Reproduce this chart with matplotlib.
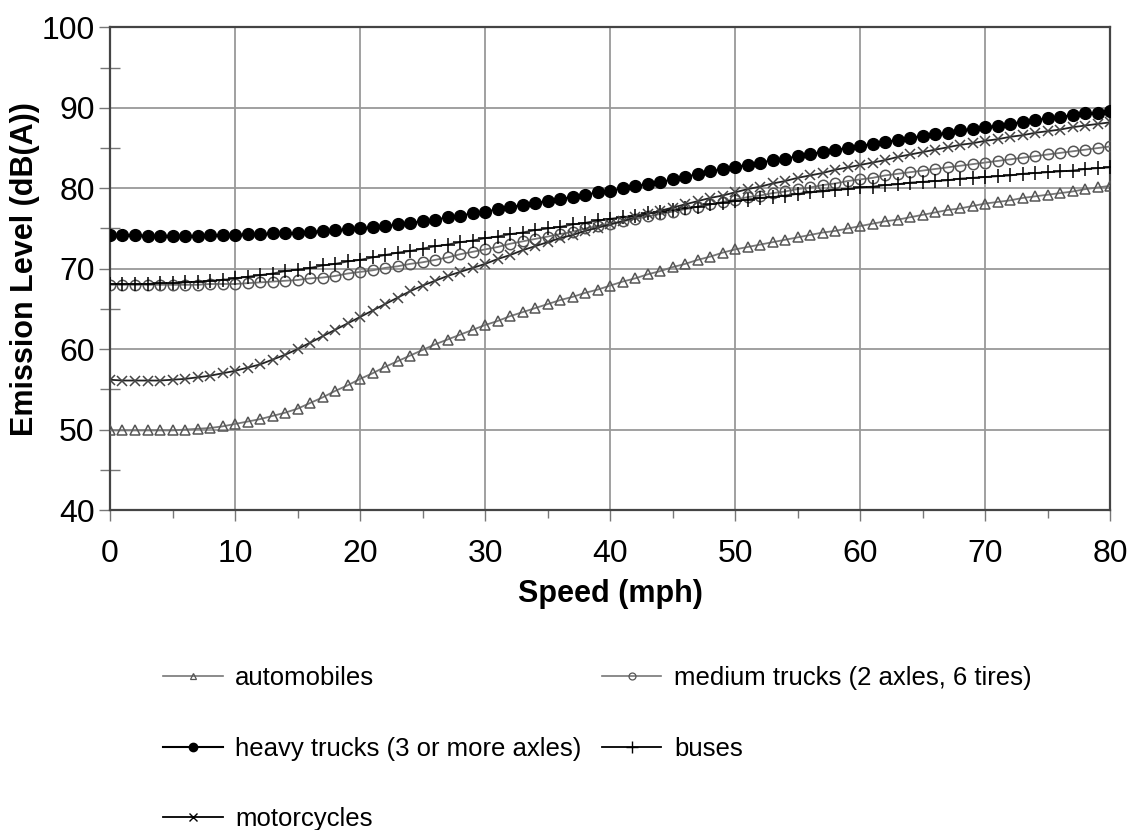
import matplotlib
matplotlib.use("Agg")
import matplotlib.pyplot as plt
from matplotlib.lines import Line2D
from matplotlib.ticker import MultipleLocator

plt.rcParams['font.family'] = ['Liberation Sans', 'DejaVu Sans']

# speed in mph, one reading per mph
speed = list(range(0, 81))

automobiles = [
    49.9, 49.9, 49.9, 49.9, 49.9, 49.9, 50.0, 50.1, 50.2, 50.4,
    50.7, 51.0, 51.3, 51.7, 52.1, 52.6, 53.3, 54.0, 54.8, 55.5,
    56.3, 57.0, 57.8, 58.5, 59.2, 59.9, 60.6, 61.2, 61.8, 62.4,
    63.0, 63.5, 64.1, 64.6, 65.1, 65.6, 66.1, 66.5, 67.0, 67.4,
    67.9, 68.4, 68.8, 69.3, 69.7, 70.2, 70.6, 71.1, 71.5, 72.0,
    72.4, 72.7, 73.0, 73.3, 73.6, 73.9, 74.2, 74.5, 74.7, 75.0,
    75.3, 75.6, 75.9, 76.1, 76.4, 76.7, 77.0, 77.3, 77.5, 77.8,
    78.1, 78.3, 78.5, 78.8, 79.0, 79.2, 79.4, 79.6, 79.9, 80.1,
    80.3,
]

medium_trucks = [
    68.0, 68.0, 68.0, 68.0, 68.0, 68.0, 68.0, 68.0, 68.1, 68.1,
    68.1, 68.2, 68.3, 68.4, 68.5, 68.6, 68.8, 68.9, 69.1, 69.4,
    69.6, 69.8, 70.1, 70.3, 70.6, 70.8, 71.1, 71.4, 71.8, 72.1,
    72.4, 72.7, 73.1, 73.4, 73.7, 74.0, 74.3, 74.6, 75.0, 75.3,
    75.6, 75.9, 76.2, 76.5, 76.8, 77.1, 77.4, 77.7, 78.0, 78.3,
    78.6, 78.9, 79.1, 79.4, 79.6, 79.9, 80.1, 80.4, 80.6, 80.9,
    81.1, 81.3, 81.6, 81.8, 82.0, 82.2, 82.4, 82.6, 82.8, 83.0,
    83.2, 83.4, 83.6, 83.8, 84.0, 84.2, 84.4, 84.6, 84.8, 85.0,
    85.2,
]

heavy_trucks = [
    74.2, 74.2, 74.2, 74.1, 74.1, 74.1, 74.1, 74.1, 74.2, 74.2,
    74.2, 74.3, 74.3, 74.4, 74.4, 74.5, 74.6, 74.7, 74.8, 74.9,
    75.0, 75.2, 75.3, 75.5, 75.7, 75.9, 76.1, 76.4, 76.6, 76.9,
    77.1, 77.4, 77.7, 77.9, 78.2, 78.4, 78.7, 78.9, 79.2, 79.5,
    79.7, 80.0, 80.3, 80.5, 80.8, 81.1, 81.4, 81.8, 82.1, 82.4,
    82.7, 82.9, 83.2, 83.5, 83.7, 84.0, 84.3, 84.5, 84.8, 85.0,
    85.3, 85.5, 85.8, 86.0, 86.3, 86.5, 86.7, 86.9, 87.2, 87.4,
    87.6, 87.8, 88.0, 88.3, 88.5, 88.7, 88.9, 89.1, 89.3, 89.4,
    89.6,
]

buses = [
    68.1, 68.1, 68.1, 68.1, 68.2, 68.2, 68.3, 68.4, 68.5, 68.6,
    68.8, 69.0, 69.2, 69.4, 69.7, 69.9, 70.1, 70.4, 70.6, 70.9,
    71.1, 71.4, 71.7, 72.0, 72.2, 72.5, 72.8, 73.0, 73.3, 73.5,
    73.8, 74.0, 74.3, 74.5, 74.8, 75.0, 75.2, 75.5, 75.7, 76.0,
    76.2, 76.4, 76.6, 76.9, 77.1, 77.3, 77.5, 77.7, 78.0, 78.2,
    78.4, 78.6, 78.8, 78.9, 79.1, 79.3, 79.5, 79.6, 79.8, 79.9,
    80.1, 80.2, 80.4, 80.5, 80.7, 80.8, 80.9, 81.0, 81.2, 81.3,
    81.4, 81.5, 81.6, 81.8, 81.9, 82.0, 82.1, 82.2, 82.4, 82.5,
    82.6,
]

motorcycles = [
    56.2, 56.1, 56.1, 56.1, 56.1, 56.2, 56.3, 56.5, 56.7, 57.0,
    57.3, 57.7, 58.1, 58.7, 59.3, 60.0, 60.8, 61.6, 62.4, 63.2,
    64.0, 64.8, 65.6, 66.4, 67.2, 67.9, 68.5, 69.1, 69.6, 70.1,
    70.6, 71.2, 71.7, 72.3, 72.8, 73.3, 73.8, 74.2, 74.7, 75.1,
    75.5, 75.9, 76.4, 76.8, 77.2, 77.6, 78.0, 78.4, 78.8, 79.1,
    79.5, 79.9, 80.2, 80.6, 80.9, 81.3, 81.6, 81.9, 82.3, 82.6,
    82.9, 83.2, 83.5, 83.9, 84.2, 84.5, 84.8, 85.1, 85.4, 85.6,
    85.9, 86.1, 86.4, 86.6, 86.9, 87.1, 87.3, 87.6, 87.8, 88.0,
    88.2,
]

labels = ['automobiles', 'medium trucks (2 axles, 6 tires)',
          'heavy trucks (3 or more axles)', 'buses', 'motorcycles']

fig = plt.figure(figsize=(11.27, 8.30), dpi=100)
ax = fig.add_axes([0.0976, 0.3855, 0.8876, 0.5815])

# gray open symbols for the light series, black for the rest
ax.plot(speed, automobiles, color='#777777', lw=1.3, marker='^', ms=7.5,
        mfc='none', mec='#555555', mew=1.1, zorder=3)
ax.plot(speed, medium_trucks, color='#777777', lw=1.3, marker='o', ms=7.5,
        mfc='none', mec='#555555', mew=1.1, zorder=3)
ax.plot(speed, heavy_trucks, color='black', lw=1.3, marker='o', ms=8.5,
        mfc='black', mec='black', zorder=4)
ax.plot(speed, buses, color='#333333', lw=1.3, marker='+', ms=10,
        mec='black', mew=1.1, zorder=3)
ax.plot(speed, motorcycles, color='#222222', lw=1.3, marker='x', ms=7.5,
        mec='#444444', mew=1.1, zorder=3)

ax.set_xlim(0, 80)
ax.set_ylim(40, 100)
ax.xaxis.set_major_locator(MultipleLocator(10))
ax.xaxis.set_minor_locator(MultipleLocator(5))
ax.yaxis.set_major_locator(MultipleLocator(10))
ax.yaxis.set_minor_locator(MultipleLocator(5))

ax.grid(True, which='major', color='#999999', lw=1.3)
ax.set_axisbelow(True)

for side in ['left', 'bottom', 'top', 'right']:
    ax.spines[side].set_color('#444444')
    ax.spines[side].set_linewidth(1.6)

ax.tick_params(axis='y', which='major', direction='out', length=8,
               width=1.0, color='#777777', labelsize=23, pad=3)
ax.tick_params(axis='y', which='minor', direction='inout', length=14,
               width=1.0, color='#777777')
ax.tick_params(axis='x', which='major', direction='out', length=8,
               width=1.0, color='#777777', labelsize=23, pad=13)
ax.tick_params(axis='x', which='minor', direction='out', length=6,
               width=1.0, color='#777777')

ax.set_xlabel('Speed (mph)', fontsize=22, fontweight='bold', labelpad=7)
ax.set_ylabel('Emission Level (dB(A))', fontsize=22, fontweight='bold',
              labelpad=1)

# legend: small symbols on a short line, two columns below the chart
h_auto = Line2D([], [], color='#777777', lw=1.2, marker='^', ms=5,
                mfc='none', mec='#555555', mew=0.9)
h_med = Line2D([], [], color='#777777', lw=1.2, marker='o', ms=5,
               mfc='none', mec='#555555', mew=0.9)
h_heavy = Line2D([], [], color='black', lw=1.5, marker='o', ms=6,
                 mfc='black', mec='black')
h_bus = Line2D([], [], color='black', lw=1.3, marker='+', ms=8,
               mec='black', mew=1.0)
h_moto = Line2D([], [], color='black', lw=1.3, marker='x', ms=6,
                mec='black', mew=1.0)

fig.legend([h_auto, h_heavy, h_moto, h_med, h_bus],
           [labels[0], labels[2], labels[4], labels[1], labels[3]],
           loc='upper left', bbox_to_anchor=(0.145, 0.197), ncol=2,
           frameon=False, fontsize=18.5, handlelength=2.3,
           handletextpad=0.5, labelspacing=1.8, columnspacing=0.8,
           borderpad=0, borderaxespad=0)

fig.savefig('out.png', dpi=100)
